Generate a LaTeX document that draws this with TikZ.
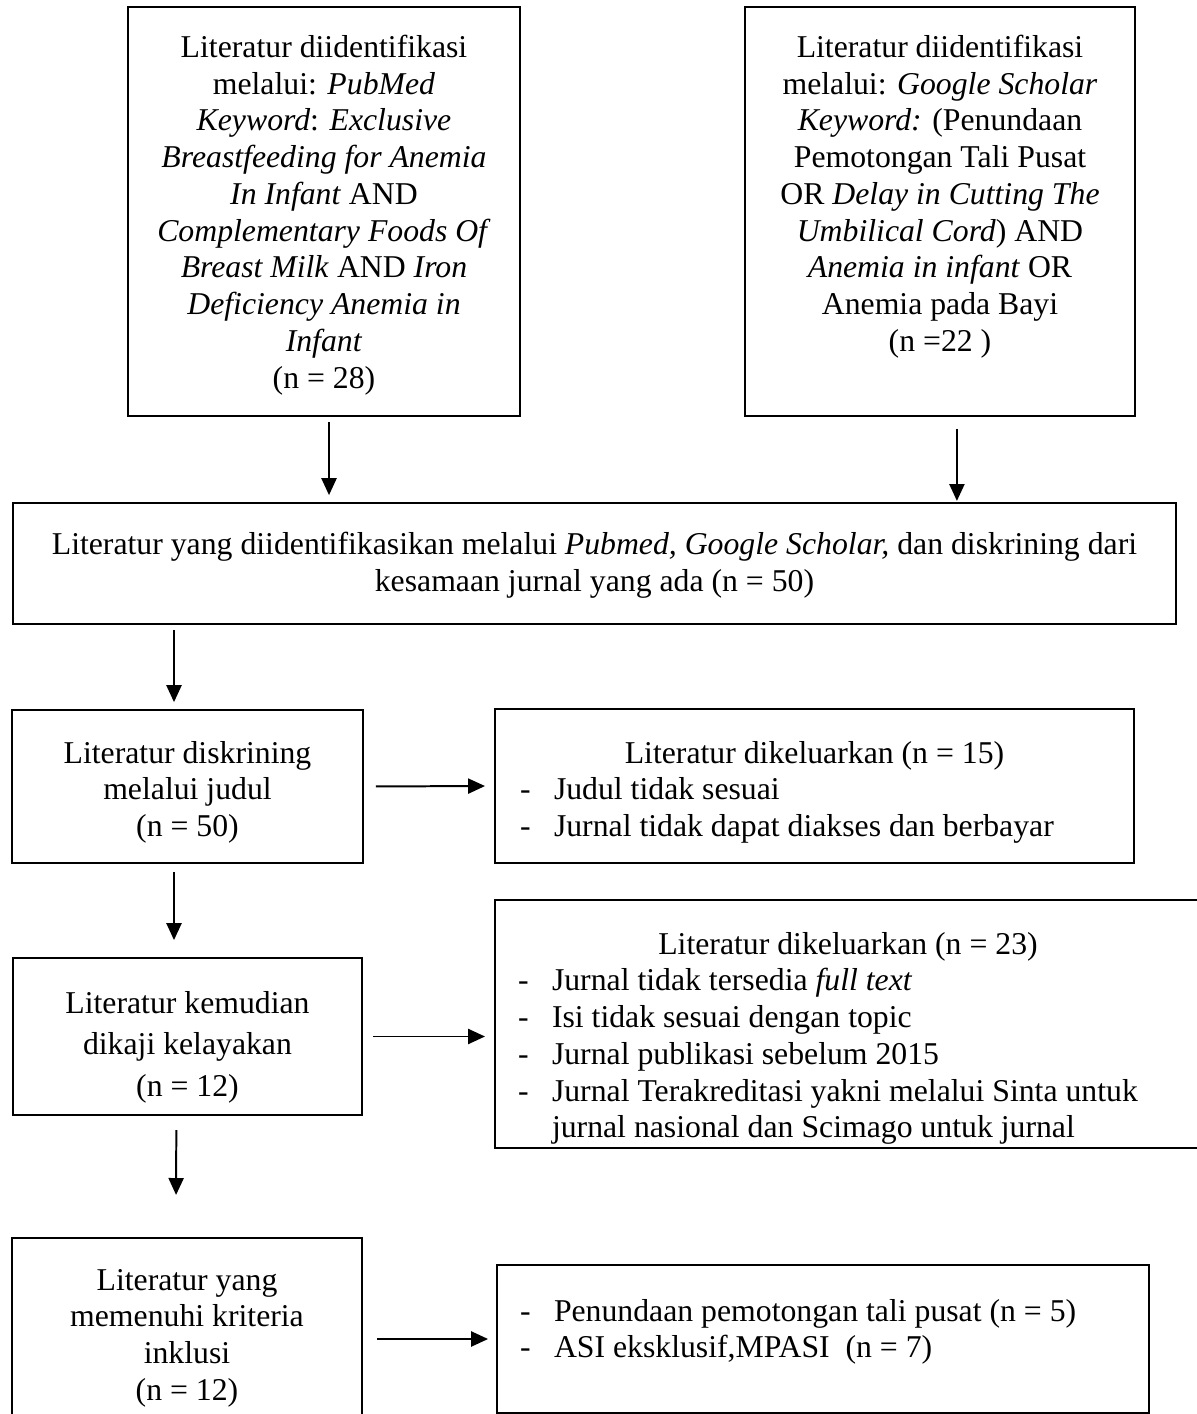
\documentclass[tikz,border=0pt]{standalone}
\usepackage{fontspec}
\setmainfont{Liberation Serif}
\usetikzlibrary{arrows.meta}

\newlength{\px}
\setlength{\px}{0.378pt}
% isi kotak: jarak atas, tinggi, lebar, teks
\newcommand{\isikotak}[4]{\parbox[c][#2\px][t]{#3\px}{\vspace*{#1\px}#4}}
\newcommand{\butir}{\makebox[34\px][l]{-}}

\begin{document}
\begin{tikzpicture}[x=0.378pt,y=-0.378pt,
  kotak/.style={draw, line width=0.75pt, inner sep=0pt, anchor=north west, font=\fontsize{12pt}{13.9pt}\selectfont},
  panah/.style={-{Triangle[length=6.4pt,width=5.7pt]}, line width=0.75pt}]
\useasboundingbox (0,0) rectangle (1196,1414);

\node[kotak] (pubmed) at (127,6) {\isikotak{28}{409}{392}{\centering Literatur diidentifikasi\\ melalui: \textit{PubMed}\\ \textit{Keyword}: \textit{Exclusive}\\ \textit{Breastfeeding for Anemia}\\ \textit{In Infant} AND\\ \textit{Complementary Foods Of}\\ \textit{Breast Milk} AND \textit{Iron}\\ \textit{Deficiency Anemia in}\\ \textit{Infant}\\ (n = 28)}};
\node[kotak] (scholar) at (744,6) {\isikotak{28}{409}{390}{\centering Literatur diidentifikasi\\ melalui: \textit{Google Scholar}\\ \textit{Keyword:} (Penundaan\\ Pemotongan Tali Pusat\\ OR \textit{Delay in Cutting The}\\ \textit{Umbilical Cord}) AND\\ \textit{Anemia in infant} OR\\ Anemia pada Bayi\\ (n =22 )}};

\node[kotak] (gabung) at (12,502) {\isikotak{29}{121}{1163}{\centering Literatur yang diidentifikasikan melalui \textit{Pubmed, Google Scholar,} dan diskrining dari\\ kesamaan jurnal yang ada (n = 50)}};

\node[kotak] (judul) at (11,709) {\isikotak{31}{153}{351}{\centering Literatur diskrining\\ melalui judul\\ (n = 50)}};
\node[kotak, inner xsep=25*\px] (keluar1) at (494,708) {\isikotak{32}{154}{589}{\centering Literatur dikeluarkan (n = 15)\par\raggedright\butir Judul tidak sesuai\\ \butir Jurnal tidak dapat diakses dan berbayar}};

\node[kotak, font=\fontsize{12pt}{15.7pt}\selectfont] (kelayakan) at (12,957) {\isikotak{33}{157}{349}{\centering Literatur kemudian\\ dikaji kelayakan\\ (n = 12)}};
\node[kotak, inner xsep=23*\px] (keluar2) at (494,899) {\isikotak{32}{248}{660}{\centering Literatur dikeluarkan (n = 23)\par\raggedright\butir Jurnal tidak tersedia \textit{full text}\\ \butir Isi tidak sesuai dengan topic\\ \butir Jurnal publikasi sebelum 2015\\ \butir Jurnal Terakreditasi yakni melalui Sinta untuk\\ \hspace*{34\px}jurnal nasional dan Scimago untuk jurnal}};

\node[kotak] (inklusi) at (11,1237) {\isikotak{31}{200}{350}{\centering Literatur yang\\ memenuhi kriteria\\ inklusi\\ (n = 12)}};
\node[kotak, inner xsep=23*\px] (hasil) at (496,1264) {\isikotak{34}{148}{606}{\raggedright\butir Penundaan pemotongan tali pusat (n = 5)\\ \butir ASI eksklusif,MPASI~ (n = 7)}};

\draw[panah, shorten <=1.9pt, shorten >=2.6pt] ([xshift=1.9pt]pubmed.south) -- ([xshift=1.9pt]pubmed.south |- gabung.north);
\draw[panah, shorten <=4.5pt, shorten >=0.4pt] ([xshift=6.4pt]scholar.south) -- ([xshift=6.4pt]scholar.south |- gabung.north);
\draw[panah, shorten <=1.9pt, shorten >=2.6pt] ([xshift=-5.1pt]judul.north |- gabung.south) -- ([xshift=-5.1pt]judul.north);
\draw[panah, shorten <=3pt, shorten >=6.4pt] ([xshift=-5.1pt]judul.south) -- ([xshift=-5.1pt]kelayakan.north);
\draw[panah, shorten <=5.3pt, shorten >=15.9pt] ([xshift=-4.2pt]kelayakan.south) -- ([xshift=-4.2pt]inklusi.north);
\draw[panah, shorten <=4.5pt, shorten >=3.4pt] (judul.east) -- (keluar1.west);
\draw[panah, shorten <=3.8pt, shorten >=3.4pt] (kelayakan.east) -- (kelayakan.east -| keluar2.west);
\draw[panah, shorten <=5.3pt, shorten >=3pt] (hasil.west -| inklusi.east) -- (hasil.west);
\end{tikzpicture}
\end{document}
